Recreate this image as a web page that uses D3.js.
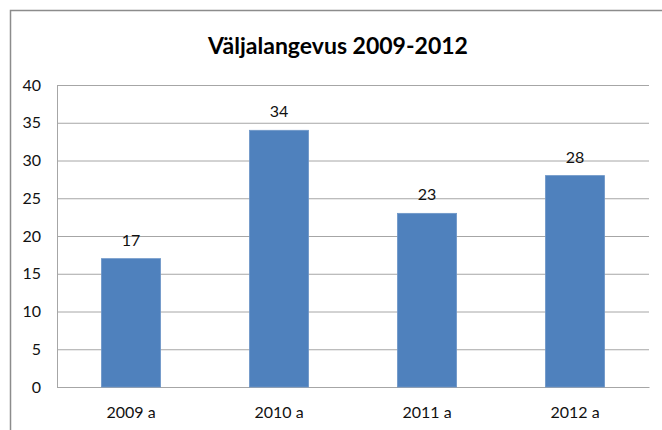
<!DOCTYPE html>
<html>
<head>
<meta charset="utf-8">
<script src="https://cdn.jsdelivr.net/npm/d3@7"></script>
<style>
  body { margin: 0; background: #fff; }
  svg { display: block; font-family: Lato, "Open Sans", sans-serif; }
</style>
</head>
<body>
<svg id="chart" width="662" height="430"></svg>
<script>
// data
var years = ["2009 a", "2010 a", "2011 a", "2012 a"];
var dropouts = [17, 34, 23, 28];
var yTicks = [0, 5, 10, 15, 20, 25, 30, 35, 40];
var title = "Väljalangevus 2009-2012";

var margin = { top: 85, right: 13, bottom: 43, left: 57 },
  width = 662 - margin.left - margin.right,
  height = 430 - margin.top - margin.bottom;

var svg = d3.select("#chart");

// outer frame of the chart object (cropped on right and bottom)
svg.append("rect")
  .attr("x", 10.5)
  .attr("y", 10.5)
  .attr("width", 700)
  .attr("height", 500)
  .attr("fill", "#fff")
  .attr("stroke", "#8c8c8c")
  .attr("stroke-width", 1.5);

svg.append("text")
  .attr("x", 338)
  .attr("y", 54)
  .attr("text-anchor", "middle")
  .attr("font-size", "23px")
  .attr("font-weight", "bold")
  .attr("fill", "#000")
  .text(title);

var g = svg.append("g")
  .attr("transform", "translate(" + margin.left + "," + margin.top + ")");

var x = d3.scaleBand()
  .domain(years)
  .range([0, width])
  .paddingInner(0.6)
  .paddingOuter(0.3);

var y = d3.scaleLinear()
  .domain([0, 40])
  .range([height, 0]);

// gridlines
g.append("g")
  .attr("class", "grid")
  .call(d3.axisLeft(y).tickValues(yTicks).tickSize(-width).tickFormat(""))
  .call(function (s) {
    s.select(".domain").remove();
    s.selectAll("line").attr("stroke", "#a6a6a6").attr("stroke-width", 1);
  });

// y axis
g.append("g")
  .call(d3.axisLeft(y).tickValues(yTicks).tickSize(0).tickPadding(16))
  .call(function (s) {
    s.select(".domain").attr("stroke", "#a6a6a6");
    s.selectAll("text").attr("font-size", "16px").attr("fill", "#111")
      .attr("font-family", "Lato, sans-serif");
  });

// x axis
g.append("g")
  .attr("transform", "translate(0," + height + ")")
  .call(d3.axisBottom(x).tickSize(0).tickPadding(20))
  .call(function (s) {
    s.select(".domain").attr("stroke", "#a6a6a6");
    s.selectAll("text").attr("font-size", "16px").attr("fill", "#111")
      .attr("font-family", "Lato, sans-serif");
  });

// bars
g.selectAll(".bar")
  .data(dropouts)
  .enter()
  .append("rect")
  .attr("class", "bar")
  .attr("x", function (d, i) { return x(years[i]); })
  .attr("y", function (d) { return y(d); })
  .attr("width", x.bandwidth())
  .attr("height", function (d) { return height - y(d); })
  .attr("fill", "#4f81bd")
  .attr("stroke", "#6e97c8")
  .attr("stroke-width", 0.8);

// value labels
g.selectAll(".label")
  .data(dropouts)
  .enter()
  .append("text")
  .attr("class", "label")
  .attr("x", function (d, i) { return x(years[i]) + x.bandwidth() / 2; })
  .attr("y", function (d) { return y(d) - 13; })
  .attr("text-anchor", "middle")
  .attr("font-size", "16px")
  .attr("fill", "#111")
  .text(function (d) { return d; });
</script>
</body>
</html>
